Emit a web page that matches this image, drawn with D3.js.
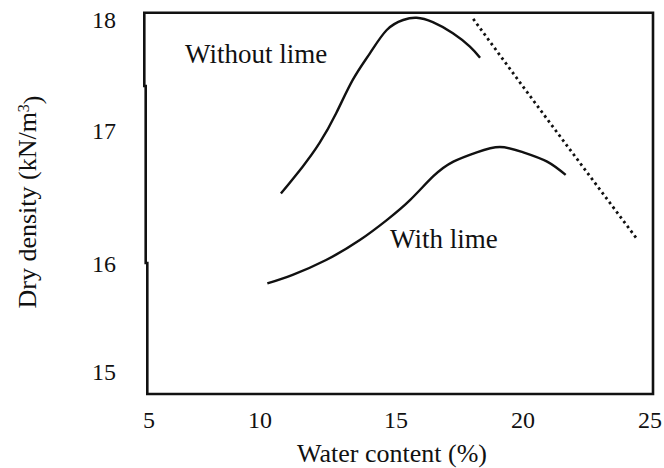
<!DOCTYPE html>
<html>
<head>
<meta charset="utf-8">
<script src="https://cdn.jsdelivr.net/npm/d3@7"></script>
<style>
body { margin: 0; background: #fff; }
</style>
</head>
<body>
<div id="chart"></div>
<script>
// values
var xTicks = [5, 10, 15, 20, 25];
var yTicks = [15, 16, 17, 18];

var withoutLimeW = [10.77, 11.56, 12.19, 12.80, 13.41, 14.04, 14.66, 15.28, 15.81, 16.45, 17.24, 17.91, 18.31];
var withoutLimeD = [16.53, 16.73, 16.91, 17.16, 17.46, 17.70, 17.91, 18.00, 18.02, 17.98, 17.88, 17.76, 17.66];

var withLimeW = [10.27, 11.20, 12.43, 13.67, 14.66, 15.55, 16.47, 17.26, 18.18, 19.09, 20.01, 20.95, 21.68];
var withLimeD = [15.82, 15.90, 16.03, 16.18, 16.33, 16.48, 16.66, 16.77, 16.84, 16.88, 16.84, 16.77, 16.67];

// zero air voids line (dotted)
var zavW = [18.04, 20.0, 21.30, 24.48];
var zavD = [18.01, 17.40, 17.0, 16.19];

var width = 664, height = 468;
var serif = "'Liberation Serif', 'DejaVu Serif', 'Times New Roman', Times, serif";

var svg = d3.select("#chart")
.append("svg")
.attr("width", width)
.attr("height", height)
.attr("font-family", serif)
.attr("fill", "#111");

// the original tick spacing is uneven, so piecewise scales
var x = d3.scaleLinear()
.domain(xTicks)
.range([149, 260, 396, 523, 650]);

var y = d3.scaleLinear()
.domain(yTicks)
.range([372, 264, 131, 20]);

// frame (left edge has small jogs in the original)
svg.append("path")
.attr("d", "M144.3,12.7 L653,12.7 L653,394 L147.3,394 L147.3,263 L145.7,263 L145.7,86 L144.3,86 Z")
.attr("fill", "none")
.attr("stroke", "#111")
.attr("stroke-width", 2.6);

var zip = function (a, b) { return a.map(function (v, i) { return [v, b[i]]; }); };

var line = d3.line()
.x(function (d) { return x(d[0]); })
.y(function (d) { return y(d[1]); })
.curve(d3.curveNatural);

svg.append("path")
.datum(zip(withoutLimeW, withoutLimeD))
.attr("d", line)
.attr("fill", "none")
.attr("stroke", "#111")
.attr("stroke-width", 2.4);

svg.append("path")
.datum(zip(withLimeW, withLimeD))
.attr("d", line)
.attr("fill", "none")
.attr("stroke", "#111")
.attr("stroke-width", 2.4);

svg.append("path")
.datum(zip(zavW, zavD))
.attr("d", line.curve(d3.curveLinear))
.attr("fill", "none")
.attr("stroke", "#111")
.attr("stroke-width", 2.8)
.attr("stroke-dasharray", "2.6,3.4");

// tick labels
svg.append("g")
.selectAll("text")
.data(xTicks)
.enter()
.append("text")
.attr("x", function (d) { return x(d); })
.attr("y", 428)
.attr("text-anchor", "middle")
.attr("font-family", serif)
.attr("font-size", 24)
.text(function (d) { return d; });

svg.append("g")
.selectAll("text")
.data(yTicks)
.enter()
.append("text")
.attr("x", 116)
.attr("y", function (d) { return y(d); })
.attr("dy", "0.35em")
.attr("text-anchor", "end")
.attr("font-family", serif)
.attr("font-size", 24)
.text(function (d) { return d; });

// axis titles
svg.append("text")
.attr("x", 392)
.attr("y", 462)
.attr("text-anchor", "middle")
.attr("font-family", serif)
.attr("font-size", 26)
.text("Water content (%)");

var yt = svg.append("text")
.attr("transform", "translate(36,202) rotate(-90)")
.attr("text-anchor", "middle")
.attr("font-family", serif)
.attr("font-size", 26);
yt.append("tspan").text("Dry density (kN/m");
yt.append("tspan").attr("dy", "-0.45em").attr("font-size", 16).text("3");
yt.append("tspan").attr("dy", "0.45em").text(")");

// curve labels
svg.append("text")
.attr("x", 185)
.attr("y", 63)
.attr("font-family", serif)
.attr("font-size", 27)
.text("Without lime");

svg.append("text")
.attr("x", 390)
.attr("y", 248)
.attr("font-family", serif)
.attr("font-size", 27)
.text("With lime");
</script>
</body>
</html>
